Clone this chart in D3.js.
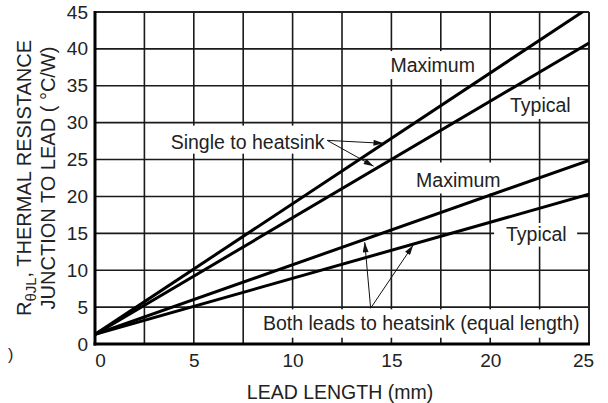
<!DOCTYPE html>
<html>
<head>
<meta charset="utf-8">
<script src="https://cdn.jsdelivr.net/npm/d3@7"></script>
<style>
  body { margin: 0; background: #fff; }
  svg text { font-family: "Liberation Sans", Arial, sans-serif; fill: #222; }
</style>
</head>
<body>
<svg></svg>
<script>
// chart data
var leadLength = [0, 25];
var singleMax = [1.3, 45.6];
var singleTyp = [1.3, 40.8];
var bothMax = [1.3, 24.9];
var bothTyp = [1.3, 20.3];
var xTicks = [0, 5, 10, 15, 20, 25];
var yTicks = [0, 5, 10, 15, 20, 25, 30, 35, 40, 45];
var xGrid = [2.5, 5, 7.5, 10, 12.5, 15, 17.5, 20, 22.5];

var svgWidth = 608, svgHeight = 403;
var margin = {left: 95, right: 19, top: 12, bottom: 59};
var w = svgWidth - margin.left - margin.right,
    h = svgHeight - margin.top - margin.bottom;

var svg = d3.select("svg")
    .attr("width", svgWidth)
    .attr("height", svgHeight);

var defs = svg.append("defs");
defs.append("clipPath").attr("id", "plot")
  .append("rect").attr("width", w).attr("height", h);
defs.append("marker")
    .attr("id", "arrow")
    .attr("viewBox", "0 0 10 6")
    .attr("refX", 10).attr("refY", 3)
    .attr("markerWidth", 12).attr("markerHeight", 6)
    .attr("markerUnits", "userSpaceOnUse")
    .attr("orient", "auto")
  .append("path")
    .attr("d", "M0,0 L10,3 L0,6 Z")
    .attr("fill", "#111");

var g = svg.append("g")
    .attr("transform", "translate(" + margin.left + "," + margin.top + ")");

var x = d3.scaleLinear().domain([0, 25]).range([0, w]);
var y = d3.scaleLinear().domain([0, 45]).range([h, 0]);

// grid
g.selectAll(".vgrid").data(xGrid).enter().append("line")
    .attr("x1", d => x(d)).attr("x2", d => x(d))
    .attr("y1", 0).attr("y2", h)
    .attr("stroke", "#1a1a1a").attr("stroke-width", 1.6);
g.selectAll(".hgrid").data(yTicks.slice(1, -1)).enter().append("line")
    .attr("x1", 0).attr("x2", w)
    .attr("y1", d => y(d)).attr("y2", d => y(d))
    .attr("stroke", "#1a1a1a").attr("stroke-width", 1.6);

// white boxes behind the labels (in data units)
var boxes = [
  [3.55, 11.65, 29.6, 25.8],   // Single to heatsink
  [14.7, 19.5, 39.7, 35.9],   // Maximum (upper)
  [20.75, 24.3, 34.5, 30.5],  // Typical (upper)
  [16.0, 20.75, 24.6, 20.4],  // Maximum (lower)
  [20.2, 24.4, 16.4, 13.2],   // Typical (lower)
  [7.85, 24.92, 4.7, 0.85]    // Both leads
];
g.selectAll(".box").data(boxes).enter().append("rect")
    .attr("x", d => x(d[0])).attr("y", d => y(d[2]))
    .attr("width", d => x(d[1]) - x(d[0]))
    .attr("height", d => y(d[3]) - y(d[2]))
    .attr("fill", "#fff");

// frame
g.append("line").attr("x1", 0).attr("x2", w).attr("y1", 0).attr("y2", 0)
    .attr("stroke", "#222").attr("stroke-width", 2);
g.append("line").attr("x1", w).attr("x2", w).attr("y1", 0).attr("y2", h)
    .attr("stroke", "#222").attr("stroke-width", 2);
g.append("line").attr("x1", 0).attr("x2", 0).attr("y1", -1).attr("y2", h + 1.5)
    .attr("stroke", "#000").attr("stroke-width", 3);
g.append("line").attr("x1", -1.5).attr("x2", w + 1).attr("y1", h).attr("y2", h)
    .attr("stroke", "#000").attr("stroke-width", 3);

// data lines
var line = d3.line()
    .x((d, i) => x(leadLength[i]))
    .y(d => y(d));
g.append("g").attr("clip-path", "url(#plot)")
  .selectAll("path")
  .data([singleMax, singleTyp, bothMax, bothTyp])
  .enter().append("path")
    .attr("d", line)
    .attr("fill", "none")
    .attr("stroke", "#000")
    .attr("stroke-width", 3);

// axes tick labels
var xAxis = g.append("g")
    .attr("transform", "translate(0," + h + ")")
    .call(d3.axisBottom(x).tickValues(xTicks).tickSize(0).tickPadding(10));
var yAxis = g.append("g")
    .call(d3.axisLeft(y).tickValues(yTicks).tickSize(0).tickPadding(7));
[xAxis, yAxis].forEach(function(a) {
  a.select(".domain").remove();
  a.selectAll("text").attr("font-size", 19).attr("fill", "#222")
    .style("font-family", "'Liberation Sans', Arial, sans-serif");
});
xAxis.selectAll("text").filter(d => d === 0).attr("dx", 5);
xAxis.selectAll("text").filter(d => d === 25).attr("dx", -6);

// arrows
var arrows = [
  [[11.75, 27.6], [14.6, 27.2]],
  [[11.75, 27.6], [14.1, 24.1]],
  [[13.95, 4.85], [13.65, 13.8]],
  [[13.95, 4.85], [16.1, 13.4]]
];
g.selectAll(".arrow").data(arrows).enter().append("line")
    .attr("x1", d => x(d[0][0])).attr("y1", d => y(d[0][1]))
    .attr("x2", d => x(d[1][0])).attr("y2", d => y(d[1][1]))
    .attr("stroke", "#111").attr("stroke-width", 1)
    .attr("marker-end", "url(#arrow)");

// annotations
var notes = [
  ["Single to heatsink", 11.62, 26.4, "end"],
  ["Maximum", 14.95, 36.8, "start"],
  ["Typical", 21.0, 31.4, "start"],
  ["Maximum", 16.25, 21.3, "start"],
  ["Typical", 20.8, 14.0, "start"],
  ["Both leads to heatsink (equal length)", 8.5, 1.85, "start"]
];
g.selectAll(".note").data(notes).enter().append("text")
    .attr("x", d => x(d[1])).attr("y", d => y(d[2]))
    .attr("text-anchor", d => d[3])
    .attr("font-size", 19.5)
    .text(d => d[0]);

// axis titles
svg.append("text")
    .attr("x", 340).attr("y", 399)
    .attr("text-anchor", "middle")
    .attr("font-size", 19.5)
    .text("LEAD LENGTH (mm)");

var yt = svg.append("g").attr("transform", "translate(0,178) rotate(-90)");
var t1 = yt.append("text").attr("x", 0).attr("y", 31)
    .attr("text-anchor", "middle").attr("font-size", 20);
t1.append("tspan").text("R");
t1.append("tspan").attr("font-size", 15).attr("dy", 5).text("θJL");
t1.append("tspan").attr("dy", -5).text(", THERMAL RESISTANCE");
yt.append("text").attr("x", 0).attr("y", 55)
    .attr("text-anchor", "middle").attr("font-size", 20)
    .text("JUNCTION TO LEAD ( °C/W)");

svg.append("text").attr("x", 8).attr("y", 360)
    .attr("font-size", 16).text(")");
</script>
</body>
</html>
